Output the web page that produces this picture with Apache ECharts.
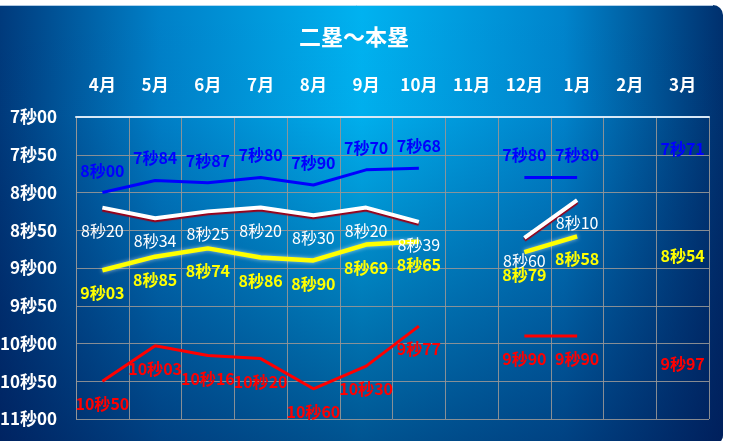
<!DOCTYPE html>
<html>
<head>
<meta charset="utf-8">
<script src="https://cdn.jsdelivr.net/npm/echarts@6/dist/echarts.min.js"></script>
<style>
  html, body { margin: 0; padding: 0; background: #fff; }
  #chart { width: 747px; height: 441px; }
</style>
</head>
<body>
<div id="chart"></div>
<script>
// 月（x軸）
const months = ['4月', '5月', '6月', '7月', '8月', '9月', '10月', '11月', '12月', '1月', '2月', '3月']
// 各系列のタイム（秒）
const blueTimes = [8.00, 7.84, 7.87, 7.80, 7.90, 7.70, 7.68, null, 7.80, 7.80, null, 7.71]
const whiteTimes = [8.20, 8.34, 8.25, 8.20, 8.30, 8.20, 8.39, null, 8.60, 8.10, null, null]
const yellowTimes = [9.03, 8.85, 8.74, 8.86, 8.90, 8.69, 8.65, null, 8.79, 8.58, null, 8.54]
const redTimes = [10.50, 10.03, 10.16, 10.20, 10.60, 10.30, 9.77, null, 9.90, 9.90, null, 9.97]
// y軸の範囲
const yMin = 7
const yMax = 11
const yStep = 0.5

const FONT = '"Noto Sans CJK JP", "Noto Sans", sans-serif'

// 8.2 -> 8秒20
function fmtTime (v) {
  let n = Math.round(v * 100)
  let s = Math.floor(n / 100)
  let c = n % 100
  return s + '秒' + (c < 10 ? '0' + c : c)
}

function makeSeries (data, color, pos, bold, lineStyle) {
  return {
    type: 'line',
    data: data,
    connectNulls: false,
    symbol: 'circle',
    symbolSize: 2,
    showSymbol: true,
    itemStyle: { color: 'rgba(0,0,0,0)' },
    lineStyle: Object.assign({ color: color }, lineStyle),
    label: {
      show: true,
      position: pos,
      distance: pos === 'top' ? 13 : 14,
      color: color,
      fontFamily: FONT,
      fontSize: 16,
      fontWeight: bold ? 'bold' : 'normal',
      formatter: p => fmtTime(p.value)
    },
    emphasis: { disabled: true },
    animation: false
  }
}

const chart = echarts.init(document.getElementById('chart'))
const option = {
  animation: false,
  graphic: [
    {
      type: 'rect',
      z: -100,
      shape: { x: 0, y: 5, width: 723, height: 440, r: [0, 10, 10, 0] },
      style: {
        fill: {
          type: 'linear', x: 0, y: 0, x2: 1, y2: 0,
          colorStops: [
            { offset: 0, color: '#003a7c' },
            { offset: 0.22, color: '#0080c8' },
            { offset: 0.5, color: '#00b2f0' },
            { offset: 0.78, color: '#0084cc' },
            { offset: 1, color: '#00306e' }
          ]
        }
      }
    },
    {
      type: 'rect',
      z: -99,
      shape: { x: 0, y: 5, width: 723, height: 440, r: [0, 10, 10, 0] },
      style: {
        fill: {
          type: 'linear', x: 0, y: 0, x2: 0, y2: 1,
          colorStops: [
            { offset: 0, color: 'rgba(0,20,80,0)' },
            { offset: 0.25, color: 'rgba(0,20,80,0.02)' },
            { offset: 1, color: 'rgba(0,20,80,0.6)' }
          ]
        }
      }
    },
    {
      type: 'line',
      z: -98,
      shape: { x1: 0, y1: 5.5, x2: 713, y2: 5.5 },
      style: { stroke: 'rgba(220,235,250,0.8)', lineWidth: 1 }
    }
  ],
  title: {
    text: '二塁～本塁',
    left: 294,
    top: 21,
    textStyle: {
      color: '#fff',
      fontFamily: FONT,
      fontSize: 22,
      fontWeight: 'bold'
    }
  },
  grid: {
    left: 76,
    right: 38,
    top: 117,
    bottom: 22,
    outerBoundsMode: 'none'
  },
  xAxis: {
    type: 'category',
    position: 'top',
    data: months,
    boundaryGap: true,
    axisTick: { show: false },
    axisLine: {
      show: true,
      lineStyle: { color: '#d8e8f6', width: 2 }
    },
    axisLabel: {
      color: '#fff',
      fontFamily: FONT,
      fontSize: 17,
      fontWeight: 'bold',
      margin: 24
    },
    splitLine: {
      show: true,
      lineStyle: { color: 'rgba(150,150,150,0.9)', width: 1 }
    }
  },
  yAxis: {
    type: 'value',
    inverse: true,
    min: yMin,
    max: yMax,
    interval: yStep,
    axisTick: { show: false },
    axisLine: {
      show: true,
      lineStyle: { color: 'rgba(150,150,150,0.9)' }
    },
    axisLabel: {
      color: '#fff',
      fontFamily: FONT,
      fontSize: 17,
      fontWeight: 'bold',
      margin: 19,
      formatter: v => fmtTime(v)
    },
    splitLine: {
      show: true,
      lineStyle: { color: 'rgba(150,150,150,0.9)', width: 1 }
    }
  },
  series: [
    makeSeries(blueTimes, '#0000ff', 'top', true, { width: 3 }),
    makeSeries(whiteTimes, '#ffffff', 'bottom', false, {
      width: 4, shadowColor: '#9a0018', shadowOffsetY: 2, shadowBlur: 1
    }),
    makeSeries(yellowTimes, '#ffff00', 'bottom', true, {
      width: 4.5, shadowColor: 'rgba(255,255,255,0.6)', shadowBlur: 4
    }),
    makeSeries(redTimes, '#ff0000', 'bottom', true, { width: 3 })
  ]
}
chart.setOption(option)
</script>
</body>
</html>
